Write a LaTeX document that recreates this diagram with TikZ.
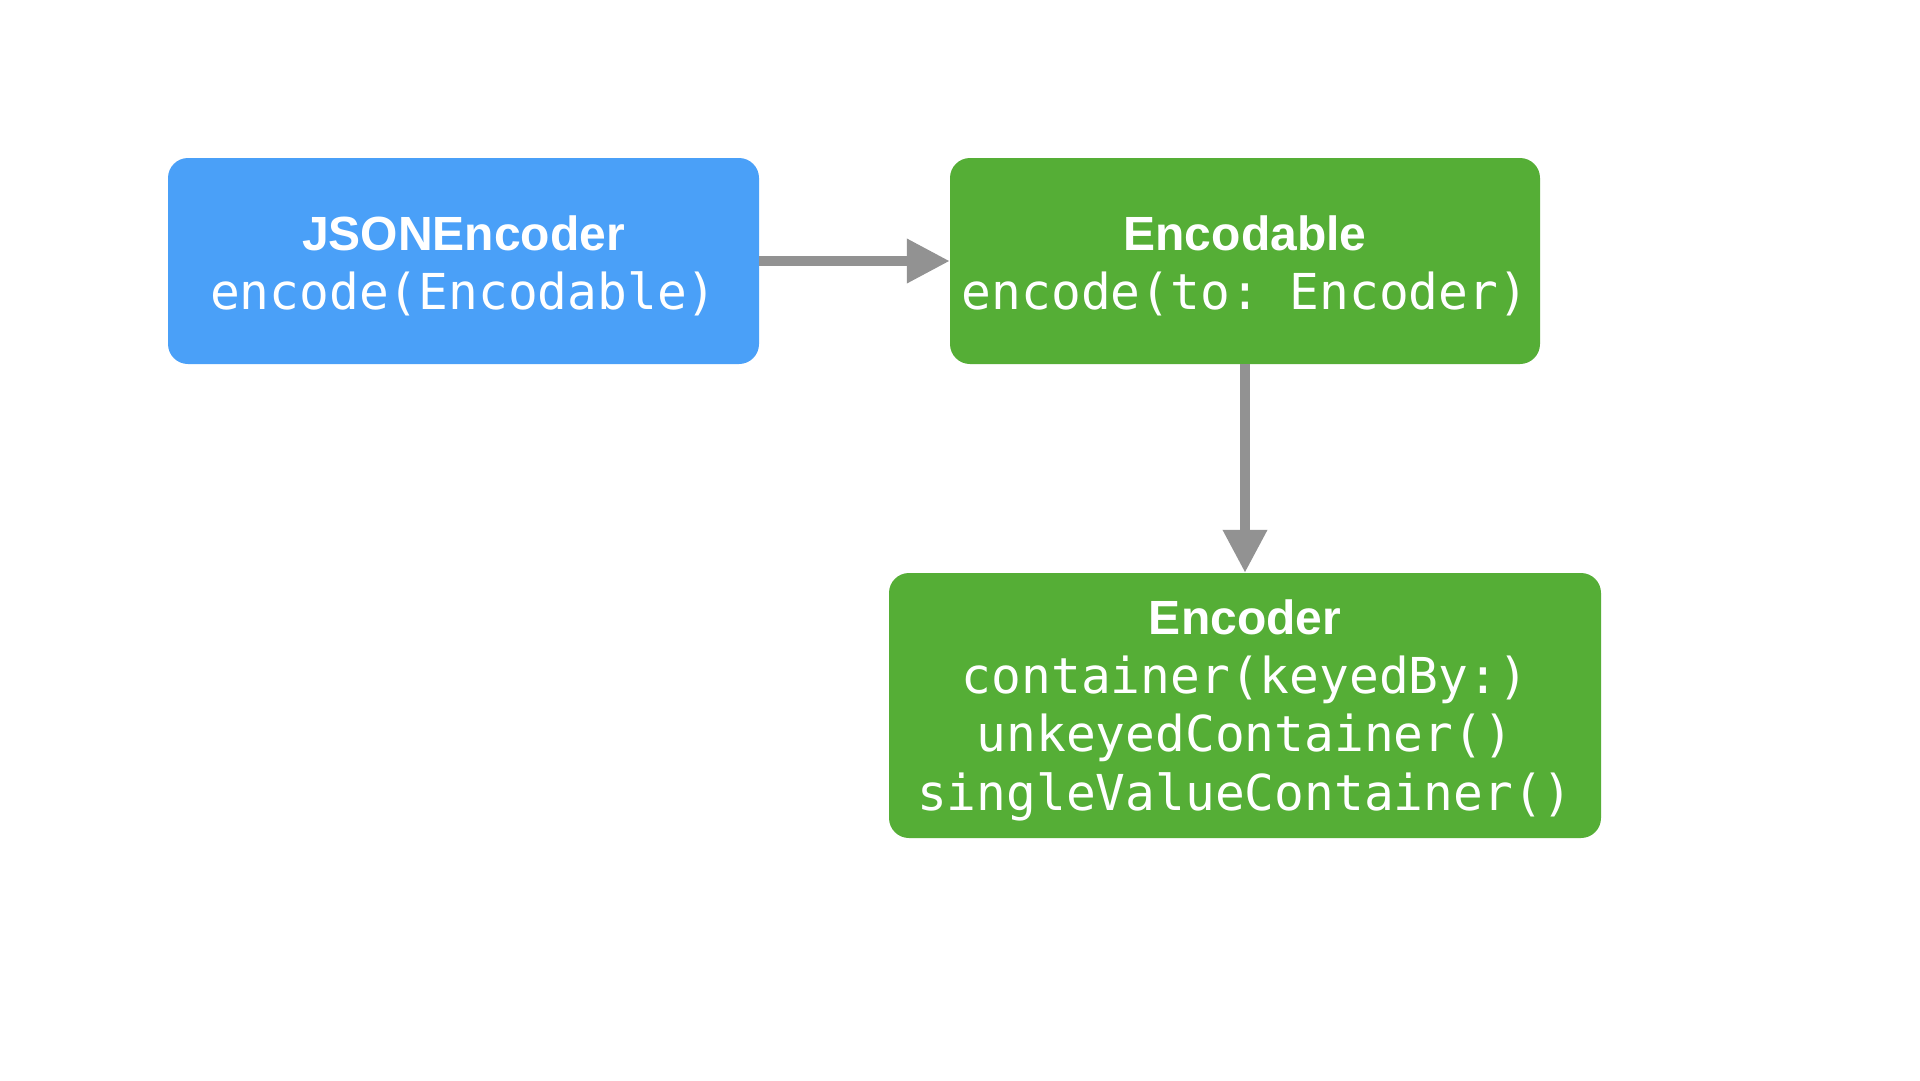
\documentclass[tikz,border=0pt]{standalone}
\usepackage{fontspec}
\setmainfont{Liberation Sans}
\setmonofont{DejaVu Sans Mono}
\usetikzlibrary{arrows.meta}
\definecolor{boxblue}{RGB}{74,160,248}
\definecolor{boxgreen}{RGB}{85,174,54}
\definecolor{arrowgray}{RGB}{146,146,146}
\newcommand{\boxtitle}[1]{{\rmfamily\bfseries\fontsize{48}{58.5}\selectfont\rule{0pt}{45pt}#1}}
\begin{document}
\begin{tikzpicture}[x=1pt,y=1pt,
  box/.style={rounded corners=20pt, inner sep=0pt, text=white, align=center,
    font=\fontsize{49.5}{58.5}\selectfont\ttfamily},
  conn/.style={draw=arrowgray, line width=10pt, -{Triangle[length=43pt,width=42pt]}, arrowgray}
]
\useasboundingbox (0,0) rectangle (1920,-1080);
\fill[white] (0,0) rectangle (1920,-1080);
\node[box, fill=boxblue, minimum width=591pt, minimum height=206pt] (json) at (463.5,-261)
  {\boxtitle{JSONEncoder}\\encode(Encodable)};
\node[box, fill=boxgreen, minimum width=590pt, minimum height=206pt] (encodable) at (1245,-261)
  {\boxtitle{Encodable}\\encode(to: Encoder)};
\node[box, fill=boxgreen, minimum width=712pt, minimum height=265pt] (encoder) at (1245,-705.5)
  {\boxtitle{Encoder}\\container(keyedBy:)\\unkeyedContainer()\\singleValueContainer()};
\draw[conn] (json.east) -- (encodable.west);
\draw[conn] (encodable.south) -- (encoder.north);
\end{tikzpicture}
\end{document}
